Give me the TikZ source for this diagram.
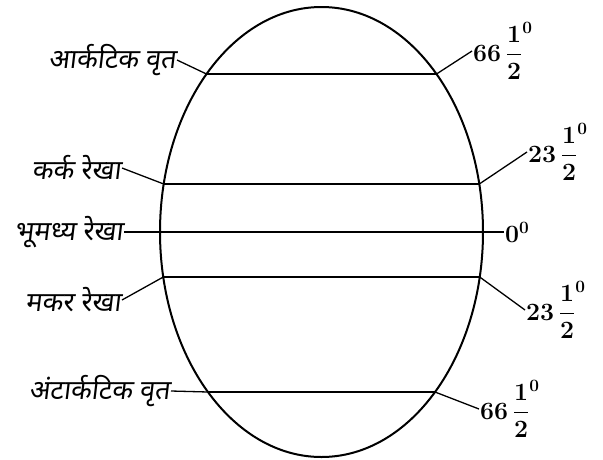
\documentclass[tikz,border=0pt]{standalone}
\usepackage{amsmath}
\usepackage{fontspec}
\newfontfamily\hindi[Script=Devanagari,FakeSlant=0.12]{Noto Sans}
\usetikzlibrary{shapes.geometric}

\begin{document}
\begin{tikzpicture}[
    x=1pt, y=-1pt,
    globe/.style={draw, ellipse, line width=2pt, minimum width=323pt, minimum height=450pt, inner sep=0pt},
    parallel/.style={line width=1.5pt},
    leader/.style={line width=1.3pt},
    place/.style={font=\hindi\fontsize{27}{30}\selectfont, inner sep=1pt, anchor=east},
    degree/.style={font=\fontsize{26}{30}\selectfont\boldmath, inner sep=1pt, anchor=west}
  ]
  \useasboundingbox (0,0) rectangle (603,459);
  \node[globe] (globe) at (321.5,232) {};

  \coordinate (arcticL) at (206.5,74);
  \coordinate (arcticR) at (436.5,74);
  \coordinate (cancerL) at (163.7,184);
  \coordinate (cancerR) at (479.3,184);
  \coordinate (capricornL) at (163.3,277);
  \coordinate (capricornR) at (479.7,277);
  \coordinate (antarcticL) at (208,392);
  \coordinate (antarcticR) at (435,392);

  \node[place] (arctic) at (177,60) {आर्कटिक वृत};
  \node[place] (cancer) at (122,168) {कर्क रेखा};
  \node[place] (equator) at (124,232) {भूमध्य रेखा};
  \node[place] (capricorn) at (122,300) {मकर रेखा};
  \node[place] (antarctic) at (171,391) {अंटार्कटिक वृत};

  \node[degree] (arcticDeg) at (472,51) {$66\,\dfrac{1}{2}^{0}$};
  \node[degree] (cancerDeg) at (527,152) {$23\,\dfrac{1}{2}^{0}$};
  \node[degree] (equatorDeg) at (504,232) {$0^{0}$};
  \node[degree] (capricornDeg) at (525,310) {$23\,\dfrac{1}{2}^{0}$};
  \node[degree] (antarcticDeg) at (479,409) {$66\,\dfrac{1}{2}^{0}$};

  \draw[parallel] (arcticL) -- (arcticR);
  \draw[parallel] (cancerL) -- (cancerR);
  \draw[parallel] (equator.east) -- (equatorDeg.west);
  \draw[parallel] (capricornL) -- (capricornR);
  \draw[parallel] (antarcticL) -- (antarcticR);

  \draw[leader] (arctic.east) -- (arcticL);
  \draw[leader] (cancer.east) -- (cancerL);
  \draw[leader] (capricorn.east) -- (capricornL);
  \draw[leader] (antarctic.east) -- (antarcticL);
  \draw[leader] (arcticR) -- (arcticDeg.west);
  \draw[leader] (cancerR) -- (cancerDeg.west);
  \draw[leader] (capricornR) -- (capricornDeg.west);
  \draw[leader] (antarcticR) -- (antarcticDeg.west);
\end{tikzpicture}
\end{document}
